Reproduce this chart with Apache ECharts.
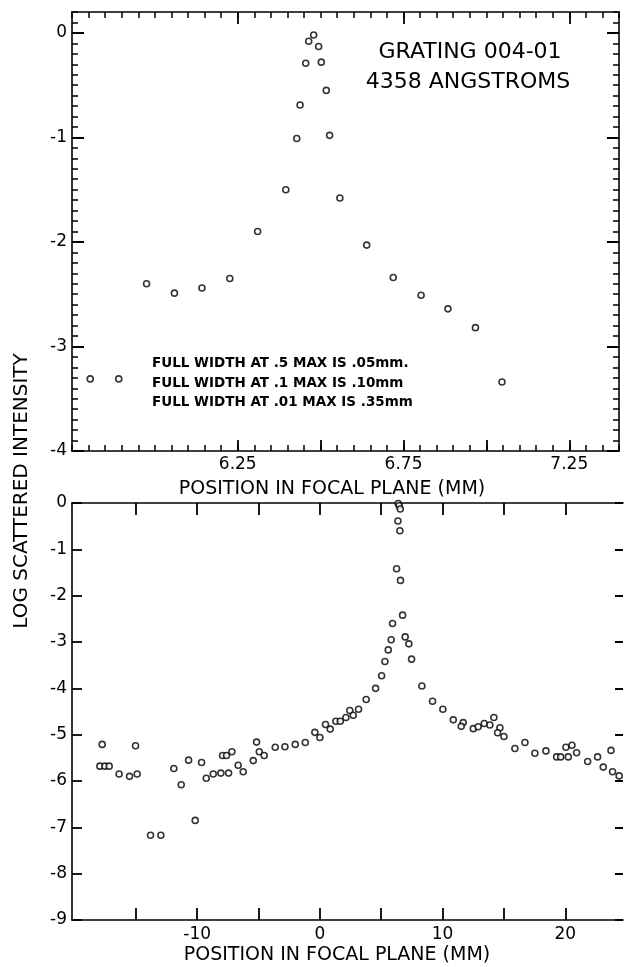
<!DOCTYPE html>
<html><head><meta charset="utf-8">
<script src="https://cdn.jsdelivr.net/npm/echarts@6/dist/echarts.min.js"></script>
<style>html,body{margin:0;padding:0;background:#fff}#c{width:628px;height:967px}</style>
</head><body><div id="c"></div>
<script>
// ---- Top panel data (position in focal plane, mm ; log scattered intensity)
const topX = [5.805,5.891,5.975,6.059,6.142,6.226,6.310,6.395,6.428,6.438,6.455,6.464,6.479,6.494,6.502,6.517,6.527,6.558,6.639,6.719,6.803,6.884,6.967,7.047];
const topY = [-3.31,-3.31,-2.40,-2.49,-2.44,-2.35,-1.90,-1.50,-1.01,-0.69,-0.29,-0.08,-0.02,-0.13,-0.28,-0.55,-0.98,-1.58,-2.03,-2.34,-2.51,-2.64,-2.82,-3.34];
// ---- Bottom panel data
const botX = [-17.74,-17.93,-17.52,-17.17,-16.36,-15.51,-15.02,-14.89,-13.80,-12.96,-11.90,-11.30,-10.70,-10.16,-9.64,-9.26,-8.69,-8.07,-7.93,-7.61,-7.44,-7.17,-6.66,-6.25,-5.43,-5.16,-4.94,-4.54,
  -3.64,-2.85,-2.01,-1.19,-0.41,0.00,0.46,0.84,1.30,1.66,2.12,2.44,2.72,3.15,3.77,4.54,5.03,5.30,5.57,5.81,5.92,
  6.38,6.46,6.55,6.36,6.52,6.25,6.57,6.74,
  6.95,7.25,7.47,8.31,9.18,10.02,10.87,11.68,11.52,12.50,12.90,13.39,13.85,14.18,14.67,14.48,15.00,15.89,16.71,17.52,18.42,19.29,19.62,20.24,20.05,20.54,20.92,21.82,22.63,23.09,23.72,23.85,24.39];
const botY = [-5.21,-5.68,-5.68,-5.68,-5.85,-5.90,-5.24,-5.85,-7.17,-7.17,-5.73,-6.08,-5.55,-6.85,-5.60,-5.94,-5.85,-5.83,-5.45,-5.45,-5.83,-5.37,-5.66,-5.80,-5.56,-5.16,-5.37,-5.45,
  -5.27,-5.26,-5.21,-5.17,-4.95,-5.06,-4.78,-4.88,-4.71,-4.71,-4.63,-4.48,-4.58,-4.45,-4.24,-4.00,-3.73,-3.42,-3.17,-2.95,-2.60,
  -0.01,-0.06,-0.13,-0.39,-0.60,-1.42,-1.67,-2.42,
  -2.89,-3.04,-3.37,-3.95,-4.28,-4.45,-4.68,-4.74,-4.82,-4.87,-4.83,-4.76,-4.79,-4.63,-4.85,-4.96,-5.04,-5.30,-5.17,-5.40,-5.35,-5.48,-5.48,-5.48,-5.27,-5.23,-5.39,-5.58,-5.48,-5.70,-5.34,-5.80,-5.89];
// ---- Tick labels
const topXLabels = [6.25, 6.75, 7.25];
const topYLabels = [-4, -3, -2, -1, 0];
const botXTicks = [-15, -10, -5, 0, 5, 10, 15, 20];
const botXLabels = [-10, 0, 10, 20];
const botYLabels = [-9, -8, -7, -6, -5, -4, -3, -2, -1, 0];

const FONT = 'DejaVu Sans';
const ink = '#000';
function line() { return {show: true, onZero: false, lineStyle: {color: ink, width: 1.6}}; }
function noLine() { return {show: false, onZero: false}; }
function tick(len, w, extra) { return Object.assign({show: true, inside: true, length: len, lineStyle: {color: ink, width: w}}, extra || {}); }

function zip(a, b) { return a.map((v, i) => [v, b[i]]); }

const option = {
  animation: false,
  grid: [
    {left: 72, top: 12, width: 547, height: 439},
    {left: 72, top: 503, right: 5, height: 417}
  ],
  xAxis: [
    {gridIndex: 0, type: 'value', min: 5.75, max: 7.40, interval: 0.05, position: 'bottom',
     axisLine: line(), axisTick: tick(6, 1.5),
     axisLabel: {show: false}, splitLine: {show: false}},
    {gridIndex: 0, type: 'value', min: 5.75, max: 7.40, position: 'bottom',
     axisLine: noLine(),
     axisTick: tick(11, 1.8, {customValues: [6.25, 6.5, 6.75, 7.0, 7.25]}),
     axisLabel: {customValues: topXLabels.slice(), formatter: v => v.toFixed(2), color: ink, fontFamily: FONT, fontSize: 17, margin: 5},
     splitLine: {show: false}},
    {gridIndex: 0, type: 'value', min: 5.75, max: 7.40, interval: 0.05, position: 'top',
     axisLine: line(), axisTick: tick(6, 1.5),
     axisLabel: {show: false}, splitLine: {show: false}},
    {gridIndex: 0, type: 'value', min: 5.75, max: 7.40, position: 'top',
     axisLine: noLine(),
     axisTick: tick(12, 1.8, {customValues: [6.25, 6.75, 7.25]}),
     axisLabel: {show: false}, splitLine: {show: false}},
    {gridIndex: 1, type: 'value', min: -20.2, max: 24.7, position: 'bottom',
     axisLine: line(),
     axisTick: tick(12, 1.8, {customValues: botXTicks.slice()}),
     axisLabel: {customValues: botXLabels.slice(), color: ink, fontFamily: FONT, fontSize: 17, margin: 6},
     splitLine: {show: false}},
    {gridIndex: 1, type: 'value', min: -20.2, max: 24.7, position: 'top',
     axisLine: line(),
     axisTick: tick(12, 1.8, {customValues: botXTicks.slice()}),
     axisLabel: {show: false}, splitLine: {show: false}}
  ],
  yAxis: [
    {gridIndex: 0, type: 'value', min: -4, max: 0.2, interval: 0.1, position: 'left',
     axisLine: line(), axisTick: tick(6, 1.5),
     axisLabel: {show: false}, splitLine: {show: false}},
    {gridIndex: 0, type: 'value', min: -4, max: 0.2, position: 'left',
     axisLine: noLine(),
     axisTick: tick(12, 2, {customValues: topYLabels.slice()}),
     axisLabel: {customValues: topYLabels.slice(), color: ink, fontFamily: FONT, fontSize: 17, margin: 5},
     splitLine: {show: false}},
    {gridIndex: 0, type: 'value', min: -4, max: 0.2, interval: 0.1, position: 'right',
     axisLine: line(), axisTick: tick(6, 1.5),
     axisLabel: {show: false}, splitLine: {show: false}},
    {gridIndex: 0, type: 'value', min: -4, max: 0.2, position: 'right',
     axisLine: noLine(),
     axisTick: tick(12, 2, {customValues: topYLabels.slice()}),
     axisLabel: {show: false}, splitLine: {show: false}},
    {gridIndex: 1, type: 'value', min: -9, max: 0, position: 'left',
     axisLine: line(), axisTick: {show: false},
     axisLabel: {show: false}, splitLine: {show: false}},
    {gridIndex: 1, type: 'value', min: -9, max: 0, interval: 1, position: 'right',
     axisLine: noLine(), axisTick: tick(8, 2),
     axisLabel: {show: false}, splitLine: {show: false}},
    {gridIndex: 1, type: 'value', min: -9, max: 0, position: 'left',
     axisLine: noLine(),
     axisTick: tick(10, 1.8, {customValues: botYLabels.slice()}),
     axisLabel: {customValues: botYLabels.slice(), color: ink, fontFamily: FONT, fontSize: 17, margin: 5},
     splitLine: {show: false}}
  ],
  series: [
    {type: 'scatter', xAxisIndex: 0, yAxisIndex: 0, data: zip(topX, topY),
     symbol: 'circle', symbolSize: 6,
     itemStyle: {color: '#fff', borderColor: ink, borderWidth: 1.6}},
    {type: 'scatter', xAxisIndex: 4, yAxisIndex: 4, data: zip(botX, botY),
     symbol: 'circle', symbolSize: 6,
     itemStyle: {color: '#fff', borderColor: ink, borderWidth: 1.6}}
  ],
  graphic: [
    {type: 'text', x: 470, y: 52, style: {text: 'GRATING 004-01', fontFamily: FONT, fontSize: 22, fill: ink, align: 'center', verticalAlign: 'middle'}},
    {type: 'text', x: 468, y: 82, style: {text: '4358 ANGSTROMS', fontFamily: FONT, fontSize: 22, fill: ink, align: 'center', verticalAlign: 'middle'}},
    {type: 'text', x: 152, y: 363, style: {text: 'FULL WIDTH AT .5 MAX IS .05mm.', fontFamily: FONT, fontSize: 13.5, fontWeight: 'bold', fill: ink, verticalAlign: 'middle'}},
    {type: 'text', x: 152, y: 383, style: {text: 'FULL WIDTH AT .1 MAX IS .10mm', fontFamily: FONT, fontSize: 13.5, fontWeight: 'bold', fill: ink, verticalAlign: 'middle'}},
    {type: 'text', x: 152, y: 402, style: {text: 'FULL WIDTH AT .01 MAX IS .35mm', fontFamily: FONT, fontSize: 13.5, fontWeight: 'bold', fill: ink, verticalAlign: 'middle'}},
    {type: 'text', x: 332, y: 489, style: {text: 'POSITION IN FOCAL PLANE (MM)', fontFamily: FONT, fontSize: 19, fill: ink, align: 'center', verticalAlign: 'middle'}},
    {type: 'text', x: 337, y: 955, style: {text: 'POSITION IN FOCAL PLANE (MM)', fontFamily: FONT, fontSize: 19, fill: ink, align: 'center', verticalAlign: 'middle'}},
    {type: 'text', x: 22, y: 491, rotation: Math.PI / 2, style: {text: 'LOG SCATTERED INTENSITY', fontFamily: FONT, fontSize: 20, fill: ink, align: 'center', verticalAlign: 'middle'}}
  ]
};
const chart = echarts.init(document.getElementById('c'));
chart.setOption(option);
</script></body></html>
